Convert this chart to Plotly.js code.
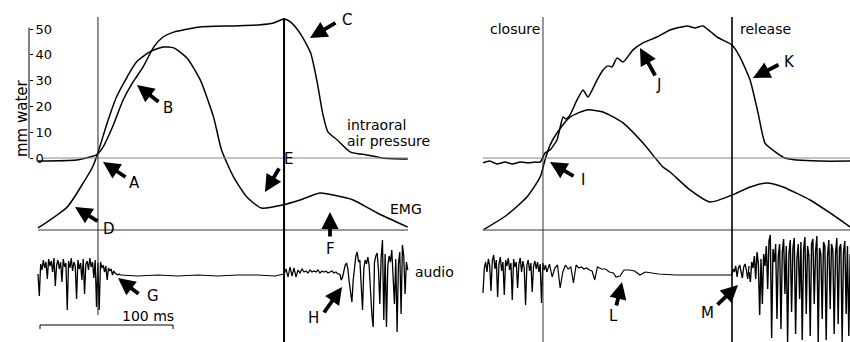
<!DOCTYPE html>
<html><head><meta charset="utf-8">
<script src="https://cdn.plot.ly/plotly-3.0.1.min.js"></script>
<style>html,body{margin:0;padding:0;background:#fff}#chart{width:850px;height:342px}</style>
</head><body><div id="chart"></div>
<script>
// ---------- LEFT PANEL DATA (time in ms) ----------
const presL_t = [0, 29, 39, 44, 49, 56, 64, 71, 74, 79, 87, 94, 102, 122, 147, 167, 177, 185, 190, 197, 205, 210, 214, 218, 225, 235, 247, 259, 278];
const presL   = [-1.2, -0.8, 0.4, 1.2, 4.3, 12.0, 22.5, 29.1, 31.4, 35.3, 43.0, 46.9, 48.8, 50.8, 51.2, 51.6, 52.3, 53.9, 52.7, 48.4, 40.7, 29.1, 17.4, 10.1, 7.0, 2.3, 1.2, 0, -0.4];
const emgL_t  = [0, 22, 34, 41, 45, 52, 59, 67, 74, 84, 94, 102, 112, 122, 132, 138, 147, 157, 168, 184, 197, 212, 222, 237, 255, 278];
const emgL    = [1.1, 12.6, 25.7, 34.4, 42.1, 58.5, 72.7, 83.6, 91.8, 97.3, 100, 99.5, 94.0, 82.0, 61.7, 43.7, 29.0, 18.0, 12.0, 13.7, 16.4, 20.2, 19.1, 16.4, 9.3, 1.6];
// audio, uniformly sampled segments (start ms, step ms) + explicit flat segments
const audL1 = [0,-22,10,4,14,6,12,-5,15,8,13,2,16,-12,9,14,5,12,-8,15,7,11,-36,13,6,16,3,12,8,-25,14,5,11,-6,15,-20,10,13,4,16,7,12,-4,14,-33,11,-36,12,6,9,2,8,-6,6,3,5,-1,3,1,0,-1,0,-1];
const audL2_t = [62, 75, 90, 105, 120, 135, 150, 165, 178, 185];
const audL2   = [-1, -2, -1, -2, -1, -2, -1, -1, -2, 0];
const audL3 = [0,5,-3,7,-2,6,-3,4,1,5,2,3,1,4,2,3,2,4,1,3,2,3,1,2,3,1,2,0,0];
const audL4 = [0,-6,-3,4,9,11,5,-8,-20,-28,-6,10,18,22,12,14,-10,-36,6,14,10,17,8,-20,-40,-53,12,18,21,4,-30,16,34,-46,20,-53,8,18,12,24,2,-30,15,-58,10,22,-40,29,18,-20,12,4];

// ---------- RIGHT PANEL DATA ----------
const presR_t = [0, 5, 10.5, 16.5, 22, 28, 34, 39, 43, 46.6, 50.4, 55.6, 60.2, 62.4, 65.4, 70.7, 75.2, 78.9, 85.7, 90.2, 94, 97, 100.8, 105.3, 112.8, 120.3, 130.8, 140.6, 153.4, 159.4, 165.4, 175.9, 187.2, 193.2, 200.8, 206.8, 212, 221, 227, 231, 236, 253, 276];
const presR   = [-1.9, -1.2, -2.3, -1.6, -2.3, -1.6, -1.9, -1.6, -1.6, 1.9, 3.1, 7.0, 15.9, 15.1, 16.7, 22.5, 26.4, 23.6, 30.2, 34.1, 35.7, 35.3, 38.8, 37.2, 41.9, 44.6, 46.9, 49.6, 51.2, 50.4, 51.2, 46.9, 43.8, 39.1, 30.2, 17.4, 5.8, 1.9, 0, -0.4, -0.8, -1.2, -1.2];
const emgR_t  = [0, 18, 33, 43, 46.6, 50.4, 55.6, 65.4, 78.2, 90.2, 105.3, 120.3, 135.3, 140.6, 155.6, 170.7, 187.2, 200.8, 213.5, 225.6, 245.9, 260.9, 276];
const emgR    = [0, 8.2, 18.0, 29.0, 38.3, 46.4, 53.0, 61.7, 65.6, 64.5, 58.5, 47.5, 34.4, 31.7, 21.9, 15.3, 19.1, 23.5, 25.7, 23.5, 16.4, 9.3, 1.6];
const audR1 = [-19,6,12,2,15,9,-17,13,19,5,14,-23,10,17,3,12,-21,14,8,16,4,11,-26,15,7,12,-14,10,16,2,13,6,-31,9,14,3,11,-18,8,13,5,12,2,10,-29,11,4,9,2];
const audR2_t = [48, 50, 52, 54, 56, 58, 60, 62, 64, 66, 68, 70, 72, 74, 76, 78, 80, 82, 84, 86, 89, 92, 95, 98, 100, 103, 106, 110, 114, 118, 122, 127, 132, 145, 160, 175, 187];
const audR2   = [2, 10, -3, 6, 9, -14, 2, 9, 5, 7, -9, 9, 6, 7, 5, 6, 4, 3, -6, 7, 5, 5, 2, 1, -3, -2, 4, 4, 3, -1, 2, 1, 0, -1, -1, -1, -1];
const audR3 = [-1,5,2,8,-3,6,9,3,-4,7,10,4,-5,8];
const audR4 = [2,-8,12,6,18,-5,22,10,-41,15,-30,20,8,28,-15,33,39,-64,25,12,30,-45,18,30,-55,22,35,-20,28,-68,20,34,-38,26,36,-60,15,30,-25,32,-66,24,37,-40,28,18,-62,30,35,-30,22,38,-68,26,20,-45,32,28,-66,18,34,-35,30,24,-60,20,36,-50,26,30,-68,22,33,-40,28,-62,20];

// tick labels / event times
const pressureTicks = [0, 10, 20, 30, 40, 50];
const markers = {closureL: 45.1, releaseL: 185, closureR: 45.1, releaseR: 187.2};

// ---------- layout helpers ----------
const W = 850, H = 342;
const px = x => x / W, py = y => 1 - y / H;
const black = '#000';
const ln = (w) => ({color: black, width: w});
const smooth = (w, s) => ({color: black, width: w, shape: 'spline', smoothing: s});

const traces = [
  {x: presL_t, y: presL, xaxis: 'x', yaxis: 'y', mode: 'lines', line: smooth(1.5, 0.6)},
  {x: emgL_t, y: emgL, xaxis: 'x', yaxis: 'y2', mode: 'lines', line: smooth(1.5, 0.6)},
  {x0: 0, dx: 1, y: audL1, xaxis: 'x', yaxis: 'y3', mode: 'lines', line: ln(1.3)},
  {x: audL2_t, y: audL2, xaxis: 'x', yaxis: 'y3', mode: 'lines', line: ln(1.2)},
  {x0: 185, dx: 1.5, y: audL3, xaxis: 'x', yaxis: 'y3', mode: 'lines', line: ln(1.2)},
  {x0: 227, dx: 1, y: audL4, xaxis: 'x', yaxis: 'y3', mode: 'lines', line: ln(1.3)},
  {x: presR_t, y: presR, xaxis: 'x2', yaxis: 'y4', mode: 'lines', line: smooth(1.5, 0.5)},
  {x: emgR_t, y: emgR, xaxis: 'x2', yaxis: 'y5', mode: 'lines', line: smooth(1.5, 0.6)},
  {x0: 0, dx: 1, y: audR1, xaxis: 'x2', yaxis: 'y6', mode: 'lines', line: ln(1.3)},
  {x: audR2_t, y: audR2, xaxis: 'x2', yaxis: 'y6', mode: 'lines', line: ln(1.2)},
  {x0: 187, dx: 1, y: audR3, xaxis: 'x2', yaxis: 'y6', mode: 'lines', line: ln(1.3)},
  {x0: 200, dx: 1, y: audR4, xaxis: 'x2', yaxis: 'y6', mode: 'lines', line: ln(1.4)}
];

const presRange = [-71.32, 61.24], emgRange = [-61.2, 125.68], audRange = [-68, 274];

const shapes = [
  // baselines
  {type: 'line', xref: 'x', yref: 'y', x0: 4, x1: 278.2, y0: 0, y1: 0, line: {color: '#888', width: 1}},
  {type: 'line', xref: 'x', yref: 'y2', x0: 0, x1: 278.2, y0: 0, y1: 0, line: {color: '#777', width: 1.5}},
  {type: 'line', xref: 'x2', yref: 'y4', x0: 0, x1: 276, y0: 0, y1: 0, line: {color: '#888', width: 1}},
  {type: 'line', xref: 'x2', yref: 'y5', x0: 0, x1: 276, y0: 0, y1: 0, line: {color: '#777', width: 1.5}},
  // event lines
  {type: 'line', xref: 'x', yref: 'paper', x0: markers.closureL, x1: markers.closureL, y0: py(315), y1: py(17), line: {color: '#222', width: 1}},
  {type: 'line', xref: 'x', yref: 'paper', x0: markers.releaseL, x1: markers.releaseL, y0: 0, y1: py(18), line: {color: black, width: 2}},
  {type: 'line', xref: 'x2', yref: 'paper', x0: markers.closureR, x1: markers.closureR, y0: 0, y1: py(17), line: {color: '#333', width: 1}},
  {type: 'line', xref: 'x2', yref: 'paper', x0: markers.releaseR, x1: markers.releaseR, y0: 0, y1: py(17), line: {color: black, width: 1.6}},
  // pressure scale axis line
  {type: 'line', xref: 'paper', yref: 'y', x0: px(29), x1: px(29), y0: 0, y1: 50.5, line: {color: black, width: 1}},
  // 100 ms scale bar
  {type: 'line', xref: 'x', yref: 'y3', x0: 1.5, x1: 101.5, y0: -51, y1: -51, line: {color: black, width: 1.2}},
  {type: 'line', xref: 'x', yref: 'y3', x0: 1.5, x1: 1.5, y0: -51, y1: -55, line: {color: black, width: 1}},
  {type: 'line', xref: 'x', yref: 'y3', x0: 101.5, x1: 101.5, y0: -51, y1: -55, line: {color: black, width: 1}}
];

const textFont = {family: 'DejaVu Sans, Arial, sans-serif', size: 14, color: black};
const words = [
  {t: 'mm water', x: 22, y: 118, angle: -90, size: 15, anchor: 'center'},
  {t: 'intraoral', x: 345, y: 125, anchor: 'left'},
  {t: 'air pressure', x: 345, y: 141, anchor: 'left'},
  {t: 'EMG', x: 388, y: 209, anchor: 'left'},
  {t: 'audio', x: 413, y: 272, anchor: 'left'},
  {t: 'closure', x: 488, y: 29, anchor: 'left'},
  {t: 'release', x: 738, y: 29, anchor: 'left'},
  {t: '100 ms', x: 120, y: 316, anchor: 'left'}
];
const arrows = [
  {l: 'A', h: [103, 162], t: [127, 178], p: [134, 183]},
  {l: 'B', h: [137, 85], t: [160, 103], p: [168, 108]},
  {l: 'C', h: [310, 38], t: [337, 22], p: [347, 20]},
  {l: 'D', h: [75, 207], t: [99, 222], p: [109, 229]},
  {l: 'E', h: [265, 192], t: [280, 167], p: [288, 159]},
  {l: 'F', h: [330, 212], t: [330, 238], p: [330, 249]},
  {l: 'G', h: [118, 278], t: [140, 295], p: [153, 296]},
  {l: 'H', h: [342, 287], t: [323, 314], p: [313, 318]},
  {l: 'I', h: [550, 162], t: [575, 177], p: [583, 180]},
  {l: 'J', h: [640, 48], t: [656, 77], p: [658, 85]},
  {l: 'K', h: [753, 78], t: [780, 64], p: [789, 62]},
  {l: 'L', h: [622, 282], t: [616, 307], p: [613, 316]},
  {l: 'M', h: [738, 285], t: [716, 306], p: [707, 313]}
];

const annotations = [];
words.forEach(w => annotations.push({
  xref: 'paper', yref: 'paper', x: px(w.x), y: py(w.y), text: w.t, showarrow: false,
  xanchor: w.anchor, yanchor: 'middle', textangle: w.angle || 0,
  font: Object.assign({}, textFont, {size: w.size || 14})
}));
arrows.forEach(a => {
  annotations.push({
    xref: 'paper', yref: 'paper', x: px(a.h[0]), y: py(a.h[1]), text: '',
    showarrow: true, axref: 'pixel', ayref: 'pixel', ax: a.t[0] - a.h[0], ay: a.t[1] - a.h[1],
    arrowhead: 2, arrowsize: 0.9, arrowwidth: 3.8, arrowcolor: black, standoff: 0, startstandoff: 0
  });
  annotations.push({
    xref: 'paper', yref: 'paper', x: px(a.p[0]), y: py(a.p[1]), text: a.l, showarrow: false,
    xanchor: 'center', yanchor: 'middle', font: Object.assign({}, textFont, {size: 15})
  });
});

const layout = {
  width: W, height: H, margin: {l: 0, r: 0, t: 0, b: 0},
  paper_bgcolor: '#fff', plot_bgcolor: 'rgba(0,0,0,0)', showlegend: false, hovermode: false,
  font: textFont,
  xaxis: {domain: [0, 0.5], range: [-28.57, 290.98], visible: false},
  xaxis2: {domain: [0.5, 1], range: [-43.6, 275.9], visible: false},
  yaxis: {domain: [0, 1], range: presRange, anchor: 'free', position: px(29), side: 'right',
          showline: false, showgrid: false, zeroline: false, ticks: 'outside', ticklen: 3, tickwidth: 1,
          tickcolor: black, tickmode: 'array', tickvals: pressureTicks, ticktext: pressureTicks.map(String),
          tickfont: {family: 'DejaVu Sans, Arial, sans-serif', size: 13, color: black}},
  yaxis2: {overlaying: 'y', anchor: 'x', range: emgRange, visible: false},
  yaxis3: {overlaying: 'y', anchor: 'x', range: audRange, visible: false},
  yaxis4: {domain: [0, 1], anchor: 'x2', range: presRange, visible: false},
  yaxis5: {overlaying: 'y4', anchor: 'x2', range: emgRange, visible: false},
  yaxis6: {overlaying: 'y4', anchor: 'x2', range: audRange, visible: false},
  shapes: shapes, annotations: annotations
};
Plotly.newPlot('chart', traces, layout, {staticPlot: true, displayModeBar: false});
</script></body></html>
